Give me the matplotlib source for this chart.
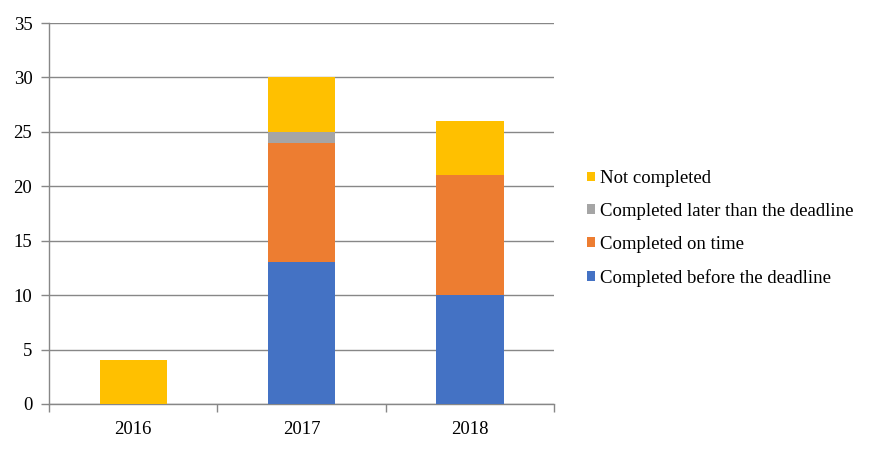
import matplotlib
matplotlib.use("Agg")
import matplotlib.pyplot as plt
import numpy as np

plt.rcParams['font.family'] = ['Liberation Serif', 'DejaVu Serif']

years = ['2016', '2017', '2018']
before = [0, 13, 10]
on_time = [0, 11, 11]
later = [0, 1, 0]
not_done = [4, 5, 5]

labels = ['Completed before the deadline', 'Completed on time',
          'Completed later than the deadline', 'Not completed']
colors = ['#4472C4', '#ED7D31', '#A5A5A5', '#FFC000']

fig = plt.figure(figsize=(8.74, 4.5), dpi=100)
ax = fig.add_axes([49 / 874, 1 - 404 / 450, (554 - 49) / 874, (404 - 23) / 450])

x = np.arange(len(years))
bottom = np.zeros(len(years))
handles = []
for vals, lab, col in zip([before, on_time, later, not_done], labels, colors):
    b = ax.bar(x, vals, 0.4, bottom=bottom, color=col, label=lab, zorder=3)
    handles.append(b)
    bottom += np.array(vals)

ax.set_xlim(-0.5, 2.5)
ax.set_ylim(0, 35)
ax.set_yticks(range(0, 36, 5))
ax.set_xticks(x)
ax.set_xticklabels(years)
ax.set_xticks([-0.5, 0.5, 1.5, 2.5], minor=True)
ax.tick_params(axis='x', which='major', length=0, pad=12, labelsize=13.5)
ax.tick_params(axis='x', which='minor', length=6, color='#878787', width=1)
ax.tick_params(axis='y', length=6, color='#878787', width=1, labelsize=13.5, pad=6)

ax.grid(axis='y', color='#878787', linewidth=1, zorder=0)
for s in ['top', 'right']:
    ax.spines[s].set_visible(False)
for s in ['left', 'bottom']:
    ax.spines[s].set_color('#878787')
    ax.spines[s].set_linewidth(1)

fig.legend(handles[::-1], labels[::-1], loc='center left',
           bbox_to_anchor=(578 / 874, 0.4923), frameon=False, fontsize=13.5,
           handlelength=0.43, handleheight=0.43, handletextpad=0.27,
           labelspacing=0.85, borderpad=0)

fig.savefig('out.png', dpi=100)
